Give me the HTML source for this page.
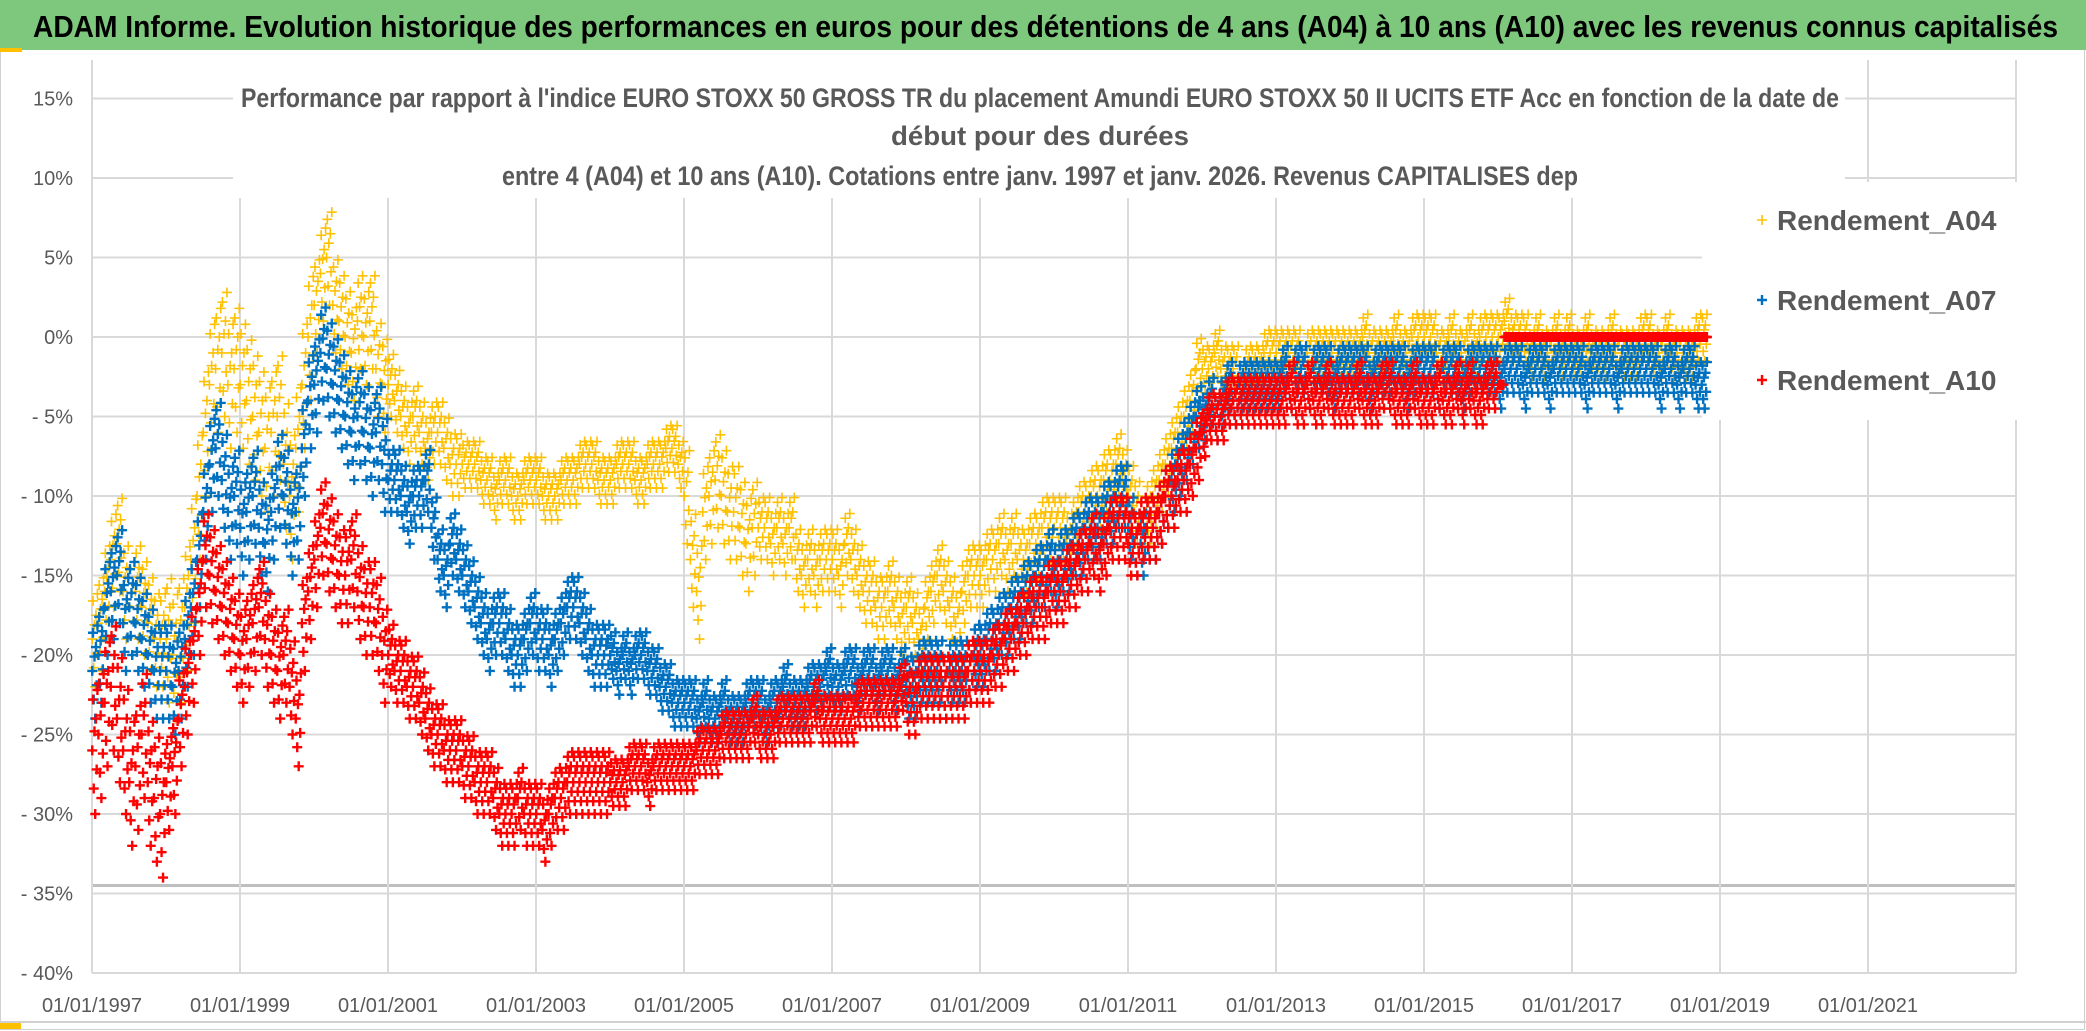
<!DOCTYPE html>
<html><head><meta charset="utf-8">
<style>
html,body{margin:0;padding:0;background:#fff;}
svg{display:block;font-family:"Liberation Sans",sans-serif;}
</style></head>
<body>
<svg id="chart" width="2086" height="1031" viewBox="0 0 2086 1031" xmlns="http://www.w3.org/2000/svg">
<rect x="0" y="0" width="2086" height="1031" fill="#fff"/>
<rect x="0.5" y="0.5" width="2084" height="1029" fill="none" stroke="#d0d0d0"/>
<rect x="0" y="0" width="2086" height="50" fill="#7DC87C"/>
<rect x="0" y="48" width="22" height="4" fill="#FFC000"/>
<text x="33" y="37" font-size="31" font-weight="bold" fill="#000" textLength="2025" lengthAdjust="spacingAndGlyphs">ADAM Informe. Evolution historique des performances en euros pour des détentions de 4 ans (A04) à 10 ans (A10) avec les revenus connus capitalisés</text>
<g id="grid"></g>
<g id="yaxis"></g>
<g id="xaxis"></g>
<rect x="233" y="58" width="1612" height="140" fill="#fff"/>
<rect x="1702" y="182" width="330" height="238" fill="#fff"/>
<g id="marks"></g>
<g fill="#595959" font-size="27" font-weight="bold">
<text x="1040" y="107" text-anchor="middle" textLength="1598" lengthAdjust="spacingAndGlyphs">Performance par rapport à l'indice EURO STOXX 50 GROSS TR  du placement Amundi EURO STOXX 50 II UCITS ETF Acc en fonction de la date de</text>
<text x="1040" y="145" text-anchor="middle" textLength="298" lengthAdjust="spacingAndGlyphs">début pour des durées</text>
<text x="1040" y="185" text-anchor="middle" textLength="1076" lengthAdjust="spacingAndGlyphs">entre 4 (A04) et 10 ans (A10). Cotations entre janv. 1997 et janv. 2026. Revenus CAPITALISES dep</text>
</g>
<g id="legend" font-size="28" font-weight="bold" fill="#595959"></g>
<line x1="0" y1="1022" x2="2086" y2="1022" stroke="#d0d0d0" stroke-width="2"/>
<rect x="0" y="1023" width="21" height="6" fill="#FFC000"/>
</svg>
<script>
// ---- data (monthly values, % from Jan 1997) ----
const yTicks = [15,10,5,0,-5,-10,-15,-20,-25,-30,-35,-40];
const yTickLabels = ["15%","10%","5%","0%","- 5%","- 10%","- 15%","- 20%","- 25%","- 30%","- 35%","- 40%"];
const xTickYears = [1997,1999,2001,2003,2005,2007,2009,2011,2013,2015,2017,2019,2021];
const xTickLabels = ["01/01/1997","01/01/1999","01/01/2001","01/01/2003","01/01/2005","01/01/2007","01/01/2009","01/01/2011","01/01/2013","01/01/2015","01/01/2017","01/01/2019","01/01/2021"];
const seriesNames = ["Rendement_A04","Rendement_A07","Rendement_A10"];
const a04 = [
-19,-18,-16,-14,-13,-16,-17,-16,-17,-18,-19,-19,
-19,-20,-19,-17,-14,-10,-6,-3,-2,-1,-3,-2,
-3,-4,-5,-6,-7,-6,-5,-8,-10,-7,-3,0,
2,4,5,2,1,0,-1,1,0,1,-2,-3,
-3,-4,-5,-6,-5,-6,-7,-6,-6,-7,-8,-8,
-8,-8,-8,-9,-9,-10,-9,-9,-10,-10,-9,-9,
-9,-10,-10,-10,-9,-9,-9,-8,-8,-8,-9,-9,
-9,-8,-8,-8,-9,-9,-8,-8,-8,-7,-7,-8,
-10,-14,-16,-11,-10,-9,-10,-11,-11,-12,-13,-12,
-12,-12,-13,-12,-13,-12,-14,-15,-14,-15,-14,-14,
-14,-15,-13,-14,-15,-16,-16,-17,-17,-16,-17,-18,
-17,-18,-19,-17,-16,-15,-16,-17,-18,-16,-15,-15,
-15,-14,-14,-13,-14,-13,-14,-14,-13,-13,-12,-12,
-12,-12,-13,-12,-11,-11,-10,-10,-9,-9,-8,-9,
-10,-11,-12,-11,-10,-9,-8,-7,-6,-5,-4,-2,
-2,-2,-1,-2,-2,-2,-3,-2,-2,-2,-1,-1,
-1,-1,-1,-1,-2,-1,-1,-1,-1,-1,-1,-1,
-1,-1,0,-1,-1,-1,-1,0,-1,-1,0,0,
0,0,-1,-1,0,-1,-1,0,-1,0,0,0,
0,1,0,0,0,-1,0,-1,-1,0,-1,0,
-1,-1,0,-1,-1,-1,0,-1,-1,-1,-1,0,
0,-1,-1,0,-1,-1,-1,-1,0,0
];
const a07 = [
-21,-20,-17,-16,-15,-18,-17,-18,-19,-20,-21,-21,
-21,-22,-21,-19,-17,-14,-11,-8,-7,-9,-11,-10,
-12,-11,-10,-12,-13,-11,-9,-10,-12,-11,-7,-4,
-3,-1,-2,-3,-4,-5,-6,-5,-6,-7,-6,-8,
-9,-9,-10,-11,-10,-10,-9,-12,-14,-15,-13,-14,
-15,-16,-17,-18,-19,-18,-18,-19,-20,-20,-19,-18,
-19,-19,-20,-19,-18,-17,-17,-18,-19,-20,-20,-20,
-20,-21,-20,-21,-20,-20,-21,-21,-22,-22,-23,-23,
-23,-23,-24,-23,-24,-24,-23,-24,-24,-24,-23,-23,
-23,-24,-23,-23,-22,-23,-23,-23,-22,-22,-22,-21,
-22,-22,-21,-21,-22,-21,-21,-22,-21,-21,-22,-21,
-22,-22,-21,-21,-21,-21,-22,-21,-21,-21,-21,-20,
-20,-19,-19,-18,-18,-17,-17,-16,-16,-15,-15,-14,
-15,-14,-14,-13,-13,-12,-12,-12,-11,-11,-10,-10,
-12,-13,-13,-12,-12,-11,-10,-9,-8,-7,-6,-5,
-5,-4,-5,-4,-3,-4,-3,-3,-3,-3,-3,-3,
-3,-2,-3,-2,-2,-3,-2,-2,-2,-3,-2,-2,
-2,-2,-2,-3,-2,-2,-2,-2,-2,-3,-2,-2,
-2,-2,-3,-2,-2,-2,-3,-2,-2,-2,-2,-2,
-3,-2,-2,-2,-3,-2,-2,-2,-3,-2,-2,-2,
-2,-2,-3,-2,-2,-2,-2,-3,-2,-2,-2,-2,
-2,-2,-3,-2,-2,-3,-2,-2,-3,-3
];
const a10 = [
-26,-25,-23,-22,-24,-26,-28,-27,-25,-28,-29,-30,
-28,-27,-24,-22,-20,-17,-14,-15,-16,-17,-18,-19,
-20,-19,-18,-17,-19,-20,-21,-20,-22,-24,-18,-16,
-14,-12,-13,-14,-15,-15,-14,-16,-17,-17,-18,-20,
-20,-21,-21,-22,-22,-23,-24,-25,-25,-26,-26,-26,
-27,-27,-28,-28,-28,-29,-30,-30,-30,-29,-30,-30,
-30,-31,-30,-29,-29,-28,-28,-28,-28,-28,-28,-28,
-28,-28,-28,-27,-27,-27,-28,-27,-27,-27,-27,-27,
-27,-27,-26,-26,-26,-26,-25,-25,-25,-25,-25,-24,
-25,-25,-25,-24,-24,-24,-24,-24,-24,-23,-24,-24,
-24,-24,-24,-24,-23,-23,-23,-23,-23,-23,-23,-22,
-23,-23,-22,-22,-22,-22,-22,-22,-22,-22,-21,-21,
-21,-21,-20,-20,-19,-19,-18,-18,-17,-17,-17,-16,
-16,-16,-15,-15,-14,-14,-13,-14,-13,-12,-12,-12,
-13,-13,-12,-12,-12,-11,-10,-10,-9,-9,-8,-7,
-6,-5,-5,-5,-4,-4,-4,-4,-4,-4,-4,-4,
-4,-4,-3,-4,-4,-3,-4,-4,-3,-4,-4,-4,
-4,-3,-4,-4,-4,-3,-3,-4,-4,-4,-3,-4,
-4,-4,-3,-4,-4,-3,-4,-3,-4,-4,-3,-3,
-3,0,0,0,0,0,0,0,0,0,0,0,
0,0,0,0,0,0,0,0,0,0,0,0,
0,0,0,0,0,0,0,0,0,0
];
// band half-width per year (%), 1997..2018
const a04Spread = [3,4,4,3,2,1.5,1.5,1.5,3,2,2,2,2,2,2,1.5,1.5,1.5,1.5,1.5,1.5,1.5];
const a07Spread = [3,3,3,3,2,2,2,1.5,1.5,1.5,1.5,2,2,2,2,1.5,1.5,1.5,1.5,1.5,1.5,1.5];
const a10Spread = [4,3,3,3,2,2,2,1.5,1.5,1.5,1.5,2,2,2,2,1.5,1.5,1.5,1.5,0,0,0];
// ---- axes ----
const X0 = 92, PX_PER_YEAR = 74, Y0 = 337, PX_PER_PCT = 15.9, XR = 2016;
function xScale(yearFrac){ return X0 + (yearFrac - 1997) * PX_PER_YEAR; }
function yScale(pct){ return Y0 - pct * PX_PER_PCT; }
const NS = "http://www.w3.org/2000/svg";
function mk(tag, attrs, parent){ const e=document.createElementNS(NS,tag); for(const k in attrs) e.setAttribute(k,attrs[k]); parent.appendChild(e); return e; }
const grid=document.getElementById('grid'), yaxis=document.getElementById('yaxis'), xaxis=document.getElementById('xaxis');
yTicks.forEach((v,i)=>{
  const l=mk('line',{x1:X0,x2:XR,y1:yScale(v),y2:yScale(v),stroke:'#d9d9d9','stroke-width':2},grid);
  
  
  const t=mk('text',{x:73,y:yScale(v)+7,'text-anchor':'end','font-size':20,fill:'#595959'},yaxis);
  t.textContent=yTickLabels[i];
  
  
});
const extra=mk('line',{x1:X0,x2:XR,y1:yScale(-34.5),y2:yScale(-34.5),stroke:'#bfbfbf','stroke-width':3},grid);


xTickYears.concat([2023]).forEach((yr,i)=>{
  const l=mk('line',{x1:xScale(yr),x2:xScale(yr),y1:60,y2:yScale(-40),stroke:'#d9d9d9','stroke-width':2},grid);
  
  
  if(i<xTickLabels.length){
    const t=mk('text',{x:xScale(yr),y:1012,'text-anchor':'middle','font-size':20,fill:'#595959'},xaxis);
    t.textContent=xTickLabels[i];
    
    
  }
});
// ---- marks ----
const colors=['#FFC000','#0070C0','#FF0000'];
const widths=[1.6,2.4,2.4];
const jitter=[[0.04,0],[0.16,0.8],[0.28,-0.6],[0.40,0.3],[0.52,-1],[0.64,0.5],[0.76,-0.3],[0.88,0.95]];
const marks=document.getElementById('marks');
function plus(g,x,y,c,w){
  const p=mk('path',{d:`M${x-5} ${y}H${x+5}M${x} ${y-5}V${y+5}`,stroke:c,'stroke-width':w,fill:'none'},g);
  
  
}
[[a04,a04Spread],[a07,a07Spread],[a10,a10Spread]].forEach(([vals,spr],si)=>{
  const g=mk('g',{},marks);
  
  
  vals.forEach((v,m)=>{
    const s=spr[Math.min(spr.length-1,Math.floor(m/12))];
    jitter.forEach(([dx,dy])=>{
      const t=1997+(m+dx)/12;
      plus(g,xScale(t),yScale(v+dy*s),colors[si],widths[si]);
    });
  });
});
// ---- legend ----
const legend=document.getElementById('legend');
seriesNames.forEach((n,i)=>{
  const y=220+i*80;
  plus(legend,1762,y,colors[i],widths[i]);
  const t=mk('text',{x:1777,y:y+10},legend);
  t.textContent=n;
  
  
});
</script>
</body></html>
